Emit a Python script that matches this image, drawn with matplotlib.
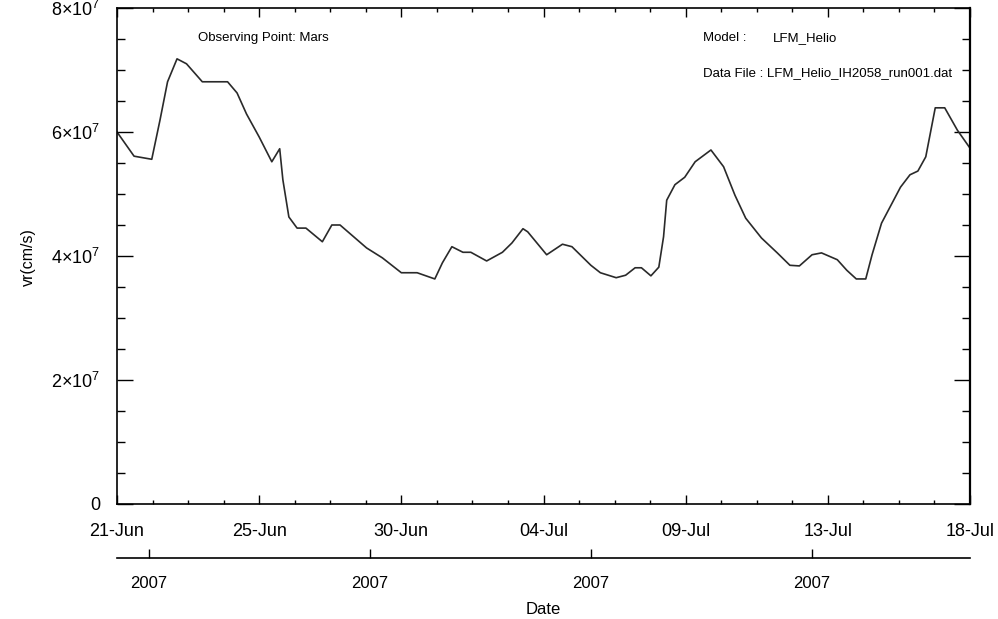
import numpy as np
import matplotlib
matplotlib.use("Agg")
import matplotlib.pyplot as plt
import matplotlib.dates as mdates
from matplotlib.ticker import FixedLocator, FuncFormatter, MultipleLocator
from datetime import datetime, timedelta

plt.rcParams['font.family'] = ['Liberation Sans', 'DejaVu Sans']
plt.rcParams['mathtext.fontset'] = 'custom'
plt.rcParams['mathtext.rm'] = 'Liberation Sans'
plt.rcParams['mathtext.it'] = 'Liberation Sans'

# radial velocity at Mars, days since 2007-06-21 00:00
day_offset = [0.0, 0.54, 1.1, 1.36, 1.6, 1.9, 2.2, 2.7, 3.5, 3.8, 4.1, 4.5,
              4.9, 5.15, 5.25, 5.44, 5.7, 5.98, 6.5, 6.8, 7.06, 7.9, 8.4,
              9.0, 9.5, 10.06, 10.3, 10.6, 10.95, 11.2, 11.7, 12.2, 12.5,
              12.85, 13.0, 13.6, 14.1, 14.4, 15.0, 15.3, 15.8, 16.1, 16.4,
              16.6, 16.9, 17.15, 17.3, 17.4, 17.66, 17.97, 18.3, 18.8, 19.2,
              19.56, 19.9, 20.4, 20.9, 21.3, 21.6, 22.0, 22.3, 22.8, 23.1,
              23.4, 23.7, 23.9, 24.2, 24.8, 25.1, 25.35, 25.6, 25.9, 26.2,
              26.6, 27.0]
vr = [6.00, 5.61, 5.56, 6.19, 6.81, 7.18, 7.10, 6.81, 6.81, 6.63, 6.29, 5.92,
      5.52, 5.73, 5.23, 4.63, 4.45, 4.45, 4.23, 4.50, 4.50, 4.13, 3.97,
      3.73, 3.73, 3.63, 3.89, 4.15, 4.06, 4.06, 3.92, 4.06, 4.21,
      4.44, 4.39, 4.02, 4.19, 4.15, 3.85, 3.73, 3.65, 3.69, 3.81,
      3.81, 3.68, 3.82, 4.31, 4.90, 5.15, 5.27, 5.52, 5.71, 5.44,
      4.98, 4.61, 4.29, 4.05, 3.85, 3.84, 4.02, 4.05, 3.94, 3.77,
      3.63, 3.63, 4.02, 4.53, 5.11, 5.31, 5.37, 5.60, 6.39, 6.39,
      6.03, 5.74]  # units of 1e7 cm/s

t0 = datetime(2007, 6, 21)
t1 = datetime(2007, 7, 18)
times = [t0 + timedelta(days=d) for d in day_offset]
vr = np.array(vr) * 1e7

year_ticks = [datetime(2007, 6, 22), datetime(2007, 6, 29),
              datetime(2007, 7, 6), datetime(2007, 7, 13)]
year_labels = ['2007'] * len(year_ticks)

W, H = 998, 619
fig = plt.figure(figsize=(W / 100, H / 100), dpi=100)
L, R, T, B = 117, 970, 8, 504
ax = fig.add_axes([L / W, (H - B) / H, (R - L) / W, (B - T) / H])

ax.plot(times, vr, color='#2a2a2a', lw=1.2)

ax.set_xlim(t0, t1)
ax.set_ylim(0, 8e7)

n0 = mdates.date2num(t0)
ax.xaxis.set_major_locator(FixedLocator([n0 + 4.5 * i for i in range(7)]))
ax.xaxis.set_minor_locator(FixedLocator([n0 + 1.125 * i for i in range(25)]))
ax.xaxis.set_major_formatter(mdates.DateFormatter('%d-%b'))

ax.yaxis.set_major_locator(MultipleLocator(2e7))
ax.yaxis.set_minor_locator(MultipleLocator(0.5e7))


def sci(v, pos):
    if v == 0:
        return '0'
    return '%d×10$^7$' % round(v / 1e7)


ax.yaxis.set_major_formatter(FuncFormatter(sci))

ax.tick_params(axis='x', which='major', direction='in', length=6.5, width=1,
               top=True, labelsize=13, pad=14)
ax.tick_params(axis='x', which='minor', direction='in', length=3, width=1,
               top=True)
ax.tick_params(axis='y', which='major', direction='in', length=11.5, width=1,
               right=True, labelsize=13, pad=12)
ax.tick_params(axis='y', which='minor', direction='in', length=5.8, width=1,
               right=True)
for s in ax.spines.values():
    s.set_linewidth(1.2)
ax.spines['right'].set_linewidth(1.6)

fig.text(28 / W, 1 - 257 / H, 'vr(cm/s)', rotation=90, fontsize=11.5,
         ha='center', va='center')

ax.text(198, 38, 'Observing Point: Mars', fontsize=9.5, va='center',
        transform=None)
for txt, x, y in [('Model :', 703, 38), ('LFM_Helio', 773, 38),
                  ('Data File : LFM_Helio_IH2058_run001.dat', 703, 73)]:
    fig.text(x / W, 1 - y / H, txt, fontsize=9.5, va='center')
ax.texts[0].set_position((198, H - 38))

# second date axis carrying the year
ax2 = fig.add_axes([L / W, (H - 558) / H, (R - L) / W, 0.0001])
ax2.set_xlim(t0, t1)
ax2.set_yticks([])
for side in ['top', 'left', 'right']:
    ax2.spines[side].set_visible(False)
ax2.spines['bottom'].set_linewidth(1.2)
ax2.set_xticks(year_ticks)
ax2.set_xticklabels(year_labels)
ax2.tick_params(axis='x', direction='in', length=6.5, width=1,
                labelsize=12, pad=13)
ax2.set_xlabel('Date', fontsize=12, labelpad=8)

fig.savefig('out.png', dpi=100)
